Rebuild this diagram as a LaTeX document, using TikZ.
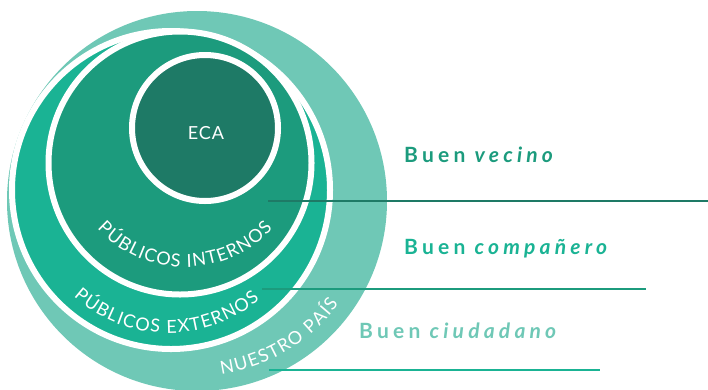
\documentclass[tikz,border=0pt]{standalone}
\usepackage{fontspec}
\setmainfont{Lato}
\newfontfamily\buenfont{Lato}[LetterSpace=20]
\newfontfamily\ecafont{Lato}[LetterSpace=5]
\newcommand\labelfont{\fontsize{18}{18}\selectfont}
\usetikzlibrary{decorations.text}

\definecolor{cpais}{HTML}{6FC8B6}
\definecolor{cexternos}{HTML}{1AB394}
\definecolor{cinternos}{HTML}{1C9B7D}
\definecolor{ceca}{HTML}{1E7A66}

\tikzset{
  ring/.style={circle, inner sep=0pt, draw=white, line width=6pt},
  buen/.style={inner sep=0pt, anchor=base west, font=\buenfont\bfseries\fontsize{21}{21}\selectfont},
  nivel/.style={line width=2pt},
  rotulo/.style={decorate, decoration={text along path, text align=fit to path,
      text={|\labelfont\color{white}|#1}}},
}

\begin{document}
\begin{tikzpicture}[x=1pt, y=-1pt]

\useasboundingbox (0,0) rectangle (708,389);
\clip (0,0) rectangle (708,389);

% circles
\node[ring, fill=cpais, draw=none, minimum size=380pt] (pais) at (197,201) {};
\node[ring, fill=cexternos, minimum size=318pt] (externos) at (171,190) {};
\node[ring, fill=cinternos, minimum size=263pt] (internos) at (180,163) {};
\node[ring, fill=ceca, minimum size=146pt] (eca) at (205,128) {};

\node[font=\ecafont\fontsize{18}{18}\selectfont, text=white, inner sep=0pt] (ecatxt) at (206,133) {ECA};

% curved labels
\path[rotulo={PÚBLICOS INTERNOS}] (185,147) ++(137:120) arc[start angle=137, end angle=43, radius=120];
\path[rotulo={PÚBLICOS EXTERNOS}] (168,192) ++(132:141) arc[start angle=132, end angle=49.5, radius=141];
\path[rotulo={NUESTRO PAÍS}] (197,201) ++(82:175) arc[start angle=82, end angle=36, radius=175];

% levels
\coordinate (v1) at (268,201);
\coordinate (v2) at (708,201);
\coordinate (c1) at (262,289);
\coordinate (c2) at (646,289);
\coordinate (u1) at (269,370);
\coordinate (u2) at (600,370);

\draw[nivel, ceca] (v1) -- (v2);
\draw[nivel, cinternos] (c1) -- (c2);
\draw[nivel, cexternos] (u1) -- (u2);

\node[buen, text=cinternos] (vecino) at (404,162) {Buen \textit{vecino}};
\node[buen, text=cexternos] (companero) at (404,254) {Buen \textit{compañero}};
\node[buen, text=cpais] (ciudadano) at (359,338) {Buen \textit{ciudadano}};

\end{tikzpicture}
\end{document}
